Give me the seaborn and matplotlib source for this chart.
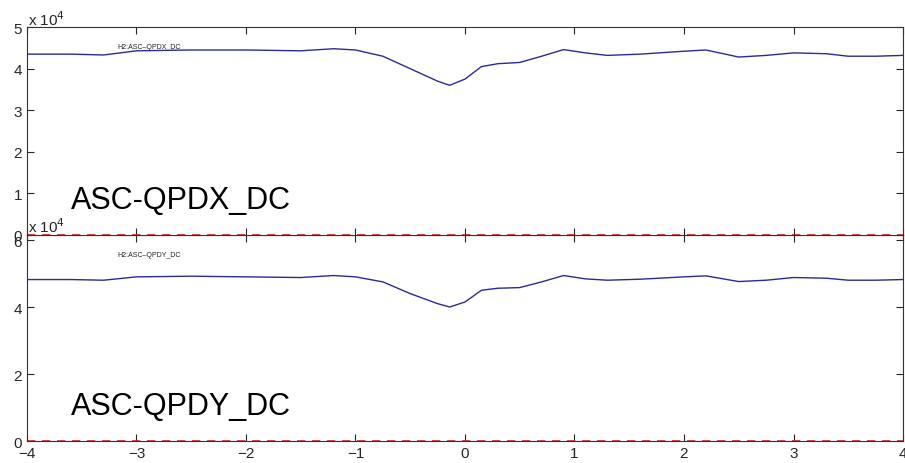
import numpy as np
import pandas as pd
import matplotlib
matplotlib.use('Agg')
import matplotlib.pyplot as plt
import seaborn as sns

# time axis (s) and readings for the two channels (counts)
t = [-4.0, -3.6, -3.3, -3.0, -2.5, -2.0, -1.5, -1.2, -1.0, -0.75, -0.5, -0.25,
     -0.14, 0.0, 0.15, 0.3, 0.5, 0.7, 0.9, 1.1, 1.3, 1.6, 2.0, 2.2, 2.5, 2.75,
     3.0, 3.3, 3.5, 3.75, 4.0]
qpdx = [43500, 43500, 43300, 44300, 44500, 44500, 44300, 44800, 44500, 43000,
        40000, 37000, 36000, 37500, 40500, 41200, 41500, 43000, 44600, 43800,
        43200, 43500, 44200, 44500, 42800, 43200, 43800, 43600, 43000, 43000,
        43200]
qpdy = [48200, 48200, 48000, 49000, 49200, 49000, 48800, 49400, 49000, 47500,
        44000, 41000, 40000, 41500, 45000, 45600, 45800, 47500, 49400, 48400,
        48000, 48300, 49000, 49300, 47600, 48000, 48800, 48600, 48000, 48000,
        48200]
channels = ['ASC-QPDX_DC', 'ASC-QPDY_DC']
ylims = [(0, 50000), (0, 61500)]
yticks = [[0, 10000, 20000, 30000, 40000, 50000], [0, 20000, 40000, 60000]]

sns.set_style('ticks')
plt.rcParams['font.family'] = ['Liberation Sans', 'DejaVu Sans']

fig = plt.figure(figsize=(9.05, 4.64), dpi=100)
ax_bot = fig.add_axes([0.0298, 0.0474, 0.968, 0.444])
ax_top = fig.add_axes([0.0298, 0.4914, 0.968, 0.448])

line_col = '#2a2a9c'
for ax, vals, name, yl, yt in zip([ax_top, ax_bot], [qpdx, qpdy], channels, ylims, yticks):
    df = pd.DataFrame({'t': t, 'v': vals})
    sns.lineplot(data=df, x='t', y='v', ax=ax, color=line_col, linewidth=1.0)
    ax.axhline(0, color='#cc2222', linestyle=(0, (5, 4)), linewidth=1.2, zorder=1)
    ax.set_xlim(-4, 4)
    ax.set_ylim(*yl)
    ax.set_yticks(yt)
    ax.set_yticklabels([str(v // 10000) for v in yt])
    ax.set_xticks(np.arange(-4, 5, 1))
    ax.set_xlabel('')
    ax.set_ylabel('')
    ax.tick_params(direction='in', top=True, right=True, labelsize=11, length=5, width=0.8)
    for s in ax.spines.values():
        s.set_linewidth(0.8)
        s.set_color('#333333')
    ax.text(0.05, 0.13, name, transform=ax.transAxes, fontsize=22, color='black')
    ax.text(0.103, 0.9, 'H2:' + name.replace('-', '\u2013'), transform=ax.transAxes,
            fontsize=5, color='#222222')

ax_top.tick_params(labelbottom=False)

# scale factor labels, drawn on the figure so the upper axes do not hide them
fig.text(0.031, 0.945, 'x 10$^4$', fontsize=11)
fig.text(0.031, 0.497, 'x 10$^4$', fontsize=11)

fig.savefig('out.png', dpi=100)
